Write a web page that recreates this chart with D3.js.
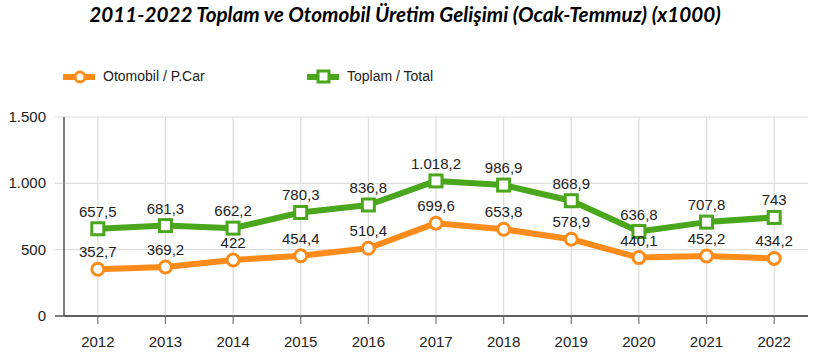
<!DOCTYPE html>
<html><head><meta charset="utf-8">
<script src="https://cdn.jsdelivr.net/npm/d3@7"></script>
<style>body{margin:0;background:#fff}</style>
</head><body>
<svg id="c" width="816" height="357"></svg>
<script>
const years = ["2012","2013","2014","2015","2016","2017","2018","2019","2020","2021","2022"];
const otomobil = [352.7,369.2,422,454.4,510.4,699.6,653.8,578.9,440.1,452.2,434.2];
const toplam = [657.5,681.3,662.2,780.3,836.8,1018.2,986.9,868.9,636.8,707.8,743];
const yTicks = [0,500,1000,1500];
const seriesNames = ["Otomobil / P.Car","Toplam / Total"];
const colors = ["#FF8C1A","#4AA61C"];

const svg = d3.select("#c");
const L=64,R=808,T=117,B=316;
const x = d3.scaleBand().domain(years).range([L,R]).padding(0);
const y = d3.scaleLinear().domain([0,1500]).range([B,T]);
const fmt = v => d3.formatLocale({decimal:",",thousands:".",grouping:[3]}).format(",")(v);

svg.append("text").attr("x",405).attr("y",22).attr("text-anchor","middle")
  .attr("font-family","Lato, 'Open Sans', sans-serif").attr("font-weight","bold").attr("font-style","italic")
  .attr("font-size",20.7).attr("fill","#000").text("2011-2022 Toplam ve Otomobil Üretim Gelişimi (Ocak-Temmuz) (x1000)");

// grid
const g = svg.append("g");
yTicks.forEach(t=>{
  g.append("line").attr("x1",55).attr("x2",R).attr("y1",y(t)).attr("y2",y(t))
   .attr("stroke",t===0?"#555":"#ddd").attr("stroke-width",t===0?1.5:1.2);
  g.append("text").attr("x",46).attr("y",y(t)+5).attr("text-anchor","end")
   .attr("font-family","Liberation Sans, Arial, sans-serif").attr("font-size",15).attr("fill","#222").text(fmt(t));
});
years.forEach(yr=>{
  const cx = x(yr)+x.bandwidth()/2;
  g.append("line").attr("x1",cx).attr("x2",cx).attr("y1",T).attr("y2",B).attr("stroke","#ddd").attr("stroke-width",1.2);
  g.append("line").attr("x1",cx).attr("x2",cx).attr("y1",B).attr("y2",B+8).attr("stroke","#777").attr("stroke-width",1.2);
  g.append("text").attr("x",cx).attr("y",347).attr("text-anchor","middle")
   .attr("font-family","Liberation Sans, Arial, sans-serif").attr("font-size",15).attr("fill","#222").text(yr);
});
g.append("line").attr("x1",L).attr("x2",L).attr("y1",T).attr("y2",B).attr("stroke","#555").attr("stroke-width",1.5);
g.append("line").attr("x1",L).attr("x2",R).attr("y1",B).attr("y2",B).attr("stroke","#555").attr("stroke-width",1.5);

const cxf = (d,i)=>x(years[i])+x.bandwidth()/2;
const line = d3.line().x((d,i)=>cxf(d,i)).y(d=>y(d));
[otomobil,toplam].forEach((data,si)=>{
  svg.append("path").attr("d",line(data)).attr("fill","none").attr("stroke",colors[si]).attr("stroke-width",6).attr("stroke-linejoin","round");
});
// markers
const mk = svg.append("g");
otomobil.forEach((v,i)=>{
  mk.append("circle").attr("cx",cxf(v,i)).attr("cy",y(v)).attr("r",6).attr("fill","#fff").attr("stroke",colors[0]).attr("stroke-width",3);
});
toplam.forEach((v,i)=>{
  mk.append("rect").attr("x",cxf(v,i)-6).attr("y",y(v)-6).attr("width",12).attr("height",12).attr("fill","#fff").attr("stroke",colors[1]).attr("stroke-width",3);
});
// labels
[otomobil,toplam].forEach((data,si)=>{
  data.forEach((v,i)=>{
    svg.append("text").attr("x",cxf(v,i)).attr("y",y(v)-12).attr("text-anchor","middle")
     .attr("font-family","Liberation Sans, Arial, sans-serif").attr("font-size",15).attr("fill","#222").text(fmt(v));
  });
});
// legend
const lg = svg.append("g");
const legX=[63,307];
seriesNames.forEach((n,si)=>{
  const x0=legX[si];
  lg.append("line").attr("x1",x0).attr("x2",x0+32).attr("y1",77).attr("y2",77).attr("stroke",colors[si]).attr("stroke-width",6);
  if(si===0) lg.append("circle").attr("cx",x0+17).attr("cy",77).attr("r",5).attr("fill","#fff").attr("stroke",colors[si]).attr("stroke-width",3);
  else lg.append("rect").attr("x",x0+11).attr("y",71).attr("width",11).attr("height",11).attr("fill","#fff").attr("stroke",colors[si]).attr("stroke-width",3);
  lg.append("text").attr("x",x0+40).attr("y",81).attr("font-family","Liberation Sans, Arial, sans-serif").attr("font-size",14).attr("fill","#222").text(n);
});
</script>
</body></html>
